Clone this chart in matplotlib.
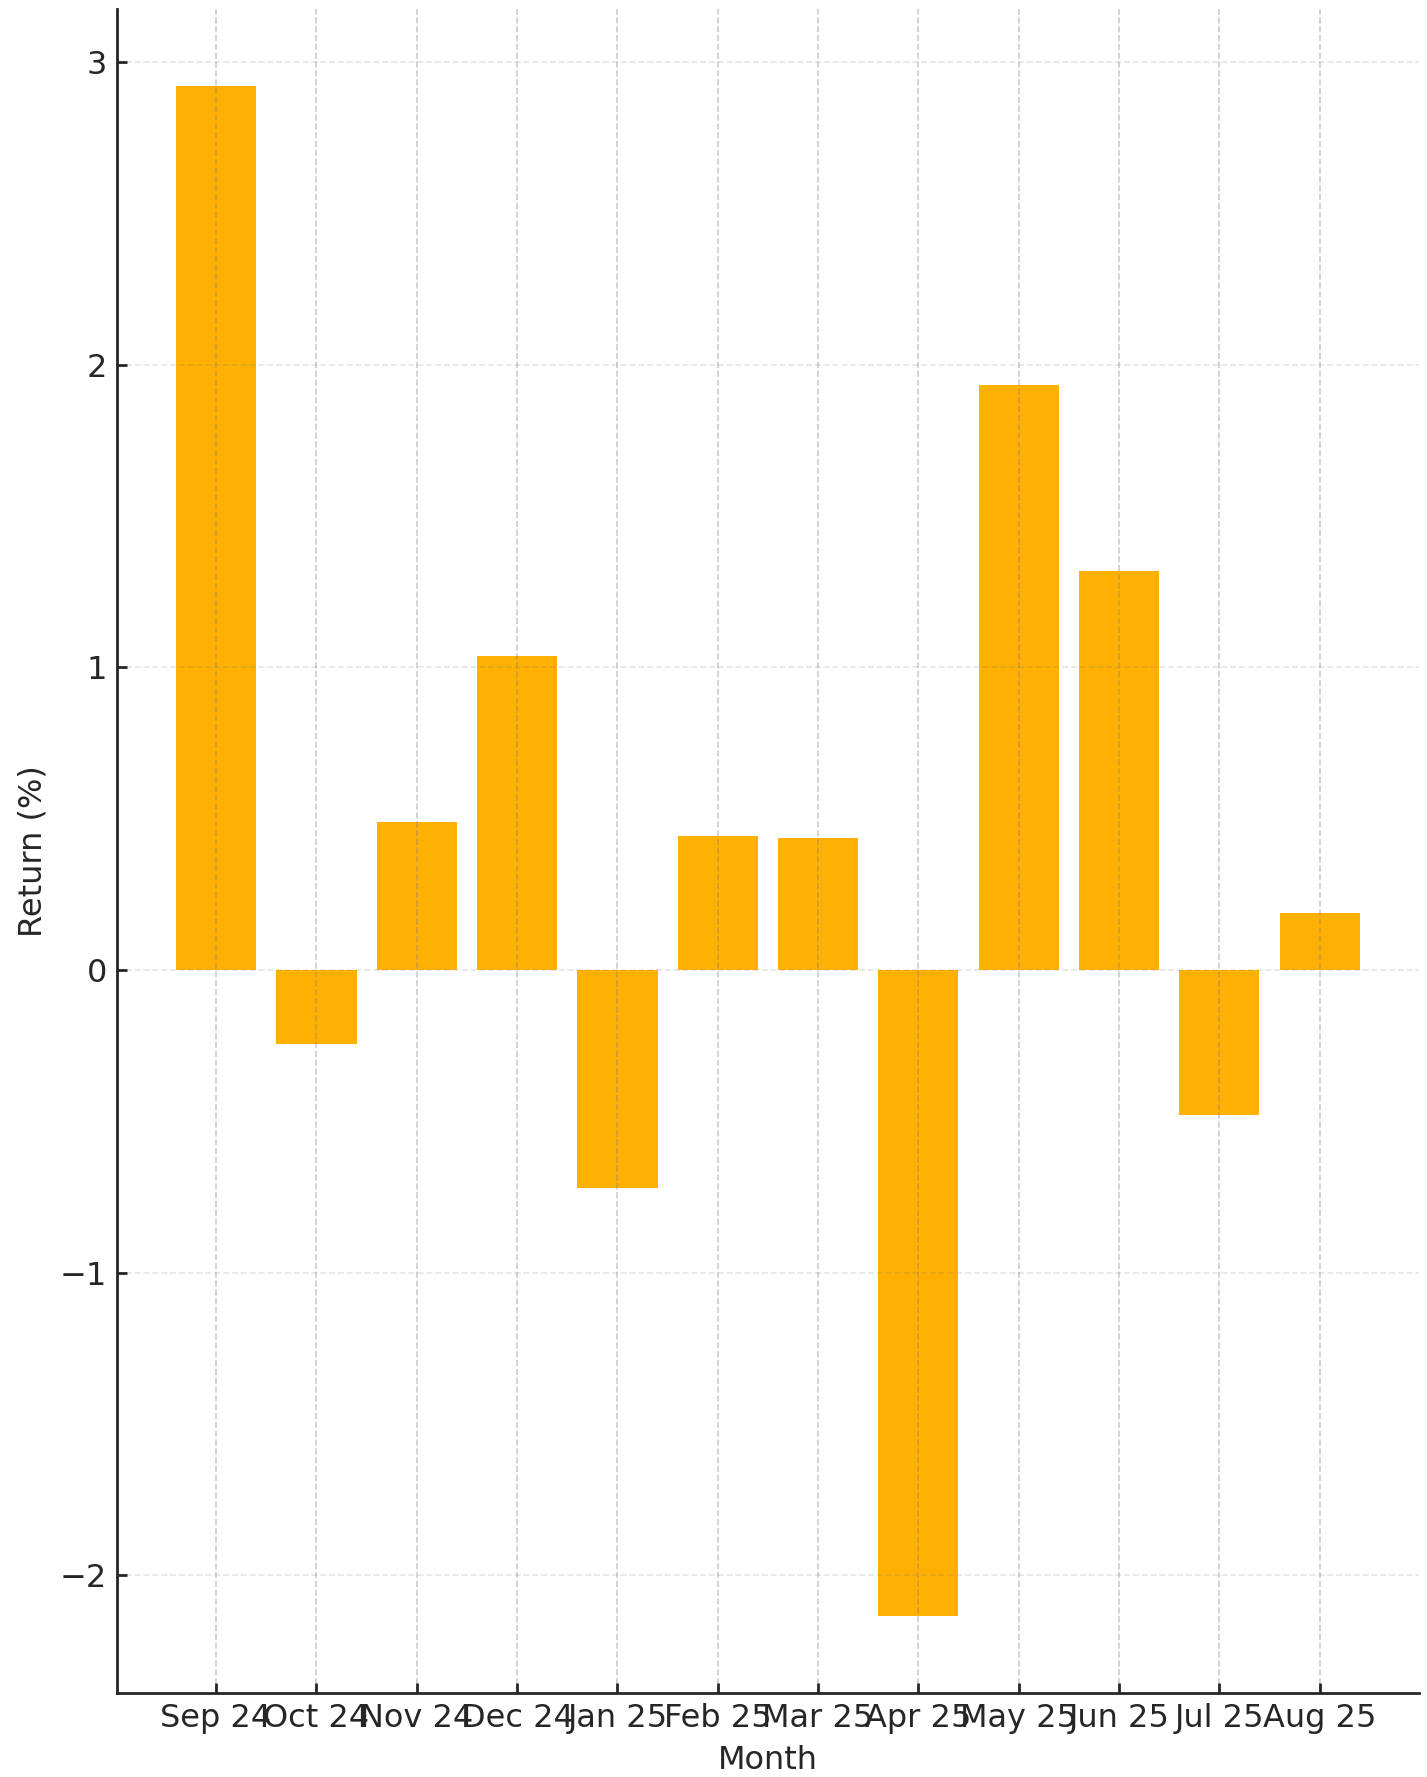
import matplotlib
matplotlib.use("Agg")
import matplotlib.pyplot as plt

months = ["Sep 24", "Oct 24", "Nov 24", "Dec 24", "Jan 25", "Feb 25",
          "Mar 25", "Apr 25", "May 25", "Jun 25", "Jul 25", "Aug 25"]
returns = [2.922, -0.245, 0.488, 1.039, -0.721, 0.443,
           0.436, -2.136, 1.933, 1.319, -0.479, 0.187]

plt.rcParams['font.family'] = ['DejaVu Sans']
fig = plt.figure(figsize=(1427/200, 1777/200), dpi=200)
ax = fig.add_axes([0.0818, 0.0473, 0.9944-0.0818, 0.9948-0.0473])

x = list(range(len(months)))
ax.bar(x, returns, width=0.8, color="#FFB000", zorder=2)
ax.set_xticks(x)
ax.set_xticklabels(months)
ax.set_xlabel("Month", fontsize=11.5, color="#262626", labelpad=4)
ax.set_ylabel("Return (%)", fontsize=11.5, color="#262626", labelpad=4)
ax.tick_params(axis='both', direction='in', labelsize=11.5, colors="#262626",
               length=3.5, width=1, pad=3.5)

ax.grid(axis='x', linestyle='--', color='gray', alpha=0.4, linewidth=0.6, zorder=3)
ax.grid(axis='y', linestyle='--', color='gray', alpha=0.2, linewidth=0.6, zorder=3)
ax.set_axisbelow(False)

for s in ['top', 'right']:
    ax.spines[s].set_visible(False)
for s in ['left', 'bottom']:
    ax.spines[s].set_linewidth(1.0)
    ax.spines[s].set_color("#262626")

fig.savefig("out.png", dpi=200)
